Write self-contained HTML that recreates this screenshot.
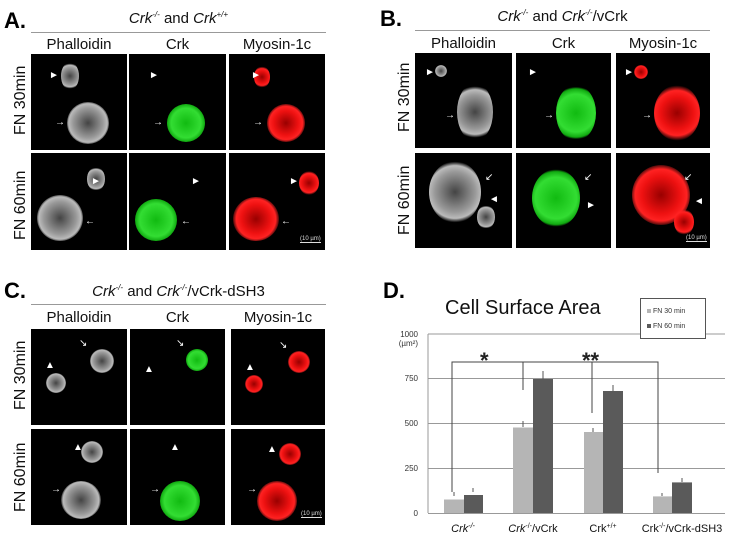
<!DOCTYPE html>
<html><head><meta charset="utf-8"><style>
body{margin:0;width:735px;height:539px;background:#fff;position:relative;overflow:hidden;font-family:"Liberation Sans",sans-serif;}
.a{position:absolute;}
.im{position:absolute;background:#000;overflow:hidden;}
.lbl{position:absolute;font-size:15px;color:#111;text-align:center;}
.pl{position:absolute;font-size:22px;font-weight:bold;color:#000;}
.ttl{position:absolute;font-size:15px;text-align:center;color:#111;}
.hl{position:absolute;height:1px;background:#999;}
.row{position:absolute;font-size:16px;color:#111;transform:rotate(-90deg);transform-origin:left top;white-space:nowrap;}
.c{position:absolute;border-radius:50%;}
.g{background:radial-gradient(circle,#444 0%,#999 50%,#bbb 65%,rgba(0,0,0,0) 75%);}
.gr{background:radial-gradient(circle,#1b1 0%,#3d3 55%,#1a1 70%,rgba(0,0,0,0) 76%);}
.rd{background:radial-gradient(circle,#900 0%,#e11 45%,#f22 62%,rgba(0,0,0,0) 76%);}
.ar{position:absolute;color:#fff;font-size:10px;line-height:10px;}
.sb{position:absolute;color:#ddd;font-size:6px;border-bottom:1px solid #ddd;}
sup{font-size:8px;}
</style></head><body>
<div class="pl" style="left:4px;top:8px">A.</div>
<div class="ttl" style="left:31px;top:10px;width:295px"><i>Crk<sup>-/-</sup></i> and <i>Crk<sup>+/+</sup></i></div>
<div class="hl" style="left:31px;top:32px;width:295px"></div>
<div class="lbl" style="left:31px;top:36px;width:96px">Phalloidin</div>
<div class="lbl" style="left:129px;top:36px;width:97px">Crk</div>
<div class="lbl" style="left:229px;top:36px;width:96px">Myosin-1c</div>
<div class="row" style="left:12px;top:135px">FN 30min</div>
<div class="row" style="left:12px;top:240px">FN 60min</div>
<div class="im" style="left:31px;top:54px;width:96px;height:96px"><div class="c g" style="left:30px;top:8px;width:18px;height:28px"></div><div class="c g" style="left:36px;top:48px;width:42px;height:42px"></div><span class="ar" style="left:18px;top:17px">►</span><span class="ar" style="left:24px;top:64px">→</span></div>
<div class="im" style="left:129px;top:54px;width:97px;height:96px"><div class="c gr" style="left:38px;top:50px;width:38px;height:38px"></div><span class="ar" style="left:20px;top:17px">►</span><span class="ar" style="left:24px;top:64px">→</span></div>
<div class="im" style="left:229px;top:54px;width:96px;height:96px"><div class="c rd" style="left:25px;top:12px;width:16px;height:22px"></div><div class="c rd" style="left:38px;top:50px;width:38px;height:38px"></div><span class="ar" style="left:22px;top:17px">►</span><span class="ar" style="left:24px;top:64px">→</span></div>
<div class="im" style="left:31px;top:153px;width:96px;height:97px"><div class="c g" style="left:56px;top:14px;width:18px;height:24px"></div><div class="c g" style="left:6px;top:42px;width:46px;height:46px"></div><span class="ar" style="left:60px;top:24px">►</span><span class="ar" style="left:54px;top:64px">←</span></div>
<div class="im" style="left:129px;top:153px;width:97px;height:97px"><div class="c gr" style="left:6px;top:46px;width:42px;height:42px"></div><span class="ar" style="left:62px;top:24px">►</span><span class="ar" style="left:52px;top:64px">←</span></div>
<div class="im" style="left:229px;top:153px;width:96px;height:97px"><div class="c rd" style="left:70px;top:18px;width:20px;height:24px"></div><div class="c rd" style="left:4px;top:44px;width:46px;height:44px"></div><span class="ar" style="left:60px;top:24px">►</span><span class="ar" style="left:52px;top:64px">←</span><span class="sb" style="left:71px;top:83px">(10 µm)</span></div>

<div class="pl" style="left:380px;top:6px">B.</div>
<div class="ttl" style="left:415px;top:8px;width:295px"><i>Crk<sup>-/-</sup></i> and <i>Crk<sup>-/-</sup></i>/vCrk</div>
<div class="hl" style="left:415px;top:30px;width:295px"></div>
<div class="lbl" style="left:415px;top:35px;width:97px">Phalloidin</div>
<div class="lbl" style="left:516px;top:35px;width:95px">Crk</div>
<div class="lbl" style="left:616px;top:35px;width:94px">Myosin-1c</div>
<div class="row" style="left:396px;top:132px">FN 30min</div>
<div class="row" style="left:396px;top:235px">FN 60min</div>
<div class="im" style="left:415px;top:53px;width:97px;height:95px"><div class="c g" style="left:20px;top:12px;width:12px;height:12px"></div><div class="c g" style="left:42px;top:30px;width:36px;height:58px"></div><span class="ar" style="left:10px;top:15px">►</span><span class="ar" style="left:30px;top:58px">→</span></div>
<div class="im" style="left:516px;top:53px;width:95px;height:95px"><div class="c gr" style="left:40px;top:32px;width:40px;height:56px"></div><span class="ar" style="left:12px;top:15px">►</span><span class="ar" style="left:28px;top:58px">→</span></div>
<div class="im" style="left:616px;top:53px;width:94px;height:95px"><div class="c rd" style="left:18px;top:12px;width:14px;height:14px"></div><div class="c rd" style="left:38px;top:32px;width:46px;height:56px"></div><span class="ar" style="left:8px;top:15px">►</span><span class="ar" style="left:26px;top:58px">→</span></div>
<div class="im" style="left:415px;top:153px;width:97px;height:95px"><div class="c g" style="left:14px;top:8px;width:52px;height:62px"></div><div class="c g" style="left:62px;top:52px;width:18px;height:24px"></div><span class="ar" style="left:70px;top:20px">↙</span><span class="ar" style="left:74px;top:42px">◄</span></div>
<div class="im" style="left:516px;top:153px;width:95px;height:95px"><div class="c gr" style="left:16px;top:16px;width:48px;height:58px"></div><span class="ar" style="left:68px;top:20px">↙</span><span class="ar" style="left:70px;top:48px">►</span></div>
<div class="im" style="left:616px;top:153px;width:94px;height:95px"><div class="c rd" style="left:16px;top:12px;width:58px;height:60px"></div><div class="c rd" style="left:58px;top:56px;width:20px;height:26px"></div><span class="ar" style="left:68px;top:20px">↙</span><span class="ar" style="left:78px;top:44px">◄</span><span class="sb" style="left:70px;top:82px">(10 µm)</span></div>

<div class="pl" style="left:4px;top:278px">C.</div>
<div class="ttl" style="left:31px;top:283px;width:295px"><i>Crk<sup>-/-</sup></i> and <i>Crk<sup>-/-</sup></i>/vCrk-dSH3</div>
<div class="hl" style="left:31px;top:304px;width:295px"></div>
<div class="lbl" style="left:31px;top:309px;width:96px">Phalloidin</div>
<div class="lbl" style="left:130px;top:309px;width:95px">Crk</div>
<div class="lbl" style="left:231px;top:309px;width:94px">Myosin-1c</div>
<div class="row" style="left:12px;top:410px">FN 30min</div>
<div class="row" style="left:12px;top:512px">FN 60min</div>
<div class="im" style="left:31px;top:329px;width:96px;height:96px"><div class="c g" style="left:59px;top:20px;width:24px;height:24px"></div><div class="c g" style="left:15px;top:44px;width:20px;height:20px"></div><span class="ar" style="left:48px;top:10px">↘</span><span class="ar" style="left:14px;top:32px">▲</span></div>
<div class="im" style="left:130px;top:329px;width:95px;height:96px"><div class="c gr" style="left:56px;top:20px;width:22px;height:22px"></div><span class="ar" style="left:46px;top:10px">↘</span><span class="ar" style="left:14px;top:36px">▲</span></div>
<div class="im" style="left:231px;top:329px;width:94px;height:96px"><div class="c rd" style="left:57px;top:22px;width:22px;height:22px"></div><div class="c rd" style="left:14px;top:46px;width:18px;height:18px"></div><span class="ar" style="left:48px;top:12px">↘</span><span class="ar" style="left:14px;top:34px">▲</span></div>
<div class="im" style="left:31px;top:429px;width:96px;height:96px"><div class="c g" style="left:50px;top:12px;width:22px;height:22px"></div><div class="c g" style="left:30px;top:52px;width:40px;height:38px"></div><span class="ar" style="left:42px;top:14px">▲</span><span class="ar" style="left:20px;top:56px">→</span></div>
<div class="im" style="left:130px;top:429px;width:95px;height:96px"><div class="c gr" style="left:30px;top:52px;width:40px;height:40px"></div><span class="ar" style="left:40px;top:14px">▲</span><span class="ar" style="left:20px;top:56px">→</span></div>
<div class="im" style="left:231px;top:429px;width:94px;height:96px"><div class="c rd" style="left:48px;top:14px;width:22px;height:22px"></div><div class="c rd" style="left:26px;top:52px;width:40px;height:40px"></div><span class="ar" style="left:36px;top:16px">▲</span><span class="ar" style="left:16px;top:56px">→</span><span class="sb" style="left:70px;top:82px">(10 µm)</span></div>

<div class="pl" style="left:383px;top:278px">D.</div>
<svg class="a" style="left:0;top:0" width="735" height="539" font-family="Liberation Sans, sans-serif">
<text x="445" y="314" font-size="20" fill="#111">Cell Surface Area</text>
<g stroke="#999" stroke-width="1">
<line x1="428" y1="334" x2="640" y2="334"/><line x1="705" y1="334" x2="725" y2="334"/>
<line x1="428" y1="378.5" x2="725" y2="378.5"/><line x1="428" y1="423.5" x2="725" y2="423.5"/><line x1="428" y1="468.5" x2="725" y2="468.5"/>
<line x1="428" y1="334" x2="428" y2="513"/><line x1="428" y1="513.5" x2="725" y2="513.5"/>
</g>
<g font-size="8" fill="#333" text-anchor="end">
<text x="418" y="337">1000</text><text x="418" y="346">(µm²)</text>
<text x="418" y="381">750</text><text x="418" y="426">500</text><text x="418" y="471">250</text><text x="418" y="516">0</text>
</g>
<g fill="#b5b5b5"><rect x="444" y="499.5" width="20" height="13.5"/><rect x="513" y="427.5" width="20" height="85.5"/><rect x="584" y="432" width="19" height="81"/><rect x="653" y="496.4" width="19" height="16.6"/></g>
<g fill="#5a5a5a"><rect x="464" y="495" width="19" height="18"/><rect x="533" y="379" width="20" height="134"/><rect x="603" y="391" width="20" height="122"/><rect x="672" y="482.4" width="20" height="30.6"/></g>
<g stroke="#555" stroke-width="1" fill="none">
<path d="M454 496v-4M473 492v-4M523 427v-6M543 379v-8M593 432v-4M613 391v-6M662 496v-3M682 482v-4"/>
</g>
<g stroke="#444" stroke-width="1" fill="none"><path d="M452 492V362H658V473M523 362V390M592 362V413"/></g>
<text x="480" y="368" font-size="22" font-weight="bold" fill="#222">*</text>
<text x="582" y="368" font-size="22" font-weight="bold" fill="#222">**</text>
<rect x="640.5" y="298.5" width="65" height="40" fill="#fff" stroke="#555"/>
<rect x="647" y="309" width="4" height="4" fill="#b5b5b5"/><text x="653" y="313" font-size="7" fill="#333">FN 30 min</text>
<rect x="647" y="324" width="4" height="4" fill="#5a5a5a"/><text x="653" y="328" font-size="7" fill="#333">FN 60 min</text>
<g font-size="11" fill="#111" text-anchor="middle">
<text x="463" y="532" font-style="italic">Crk<tspan font-size="7" dy="-4">-/-</tspan></text>
<text x="533" y="532"><tspan font-style="italic">Crk</tspan><tspan font-size="7" dy="-4">-/-</tspan><tspan dy="4">/vCrk</tspan></text>
<text x="603" y="532">Crk<tspan font-size="7" dy="-4">+/+</tspan></text>
<text x="682" y="532">Crk<tspan font-size="7" dy="-4">-/-</tspan><tspan dy="4">/vCrk-dSH3</tspan></text>
</g>
</svg>
</body></html>
